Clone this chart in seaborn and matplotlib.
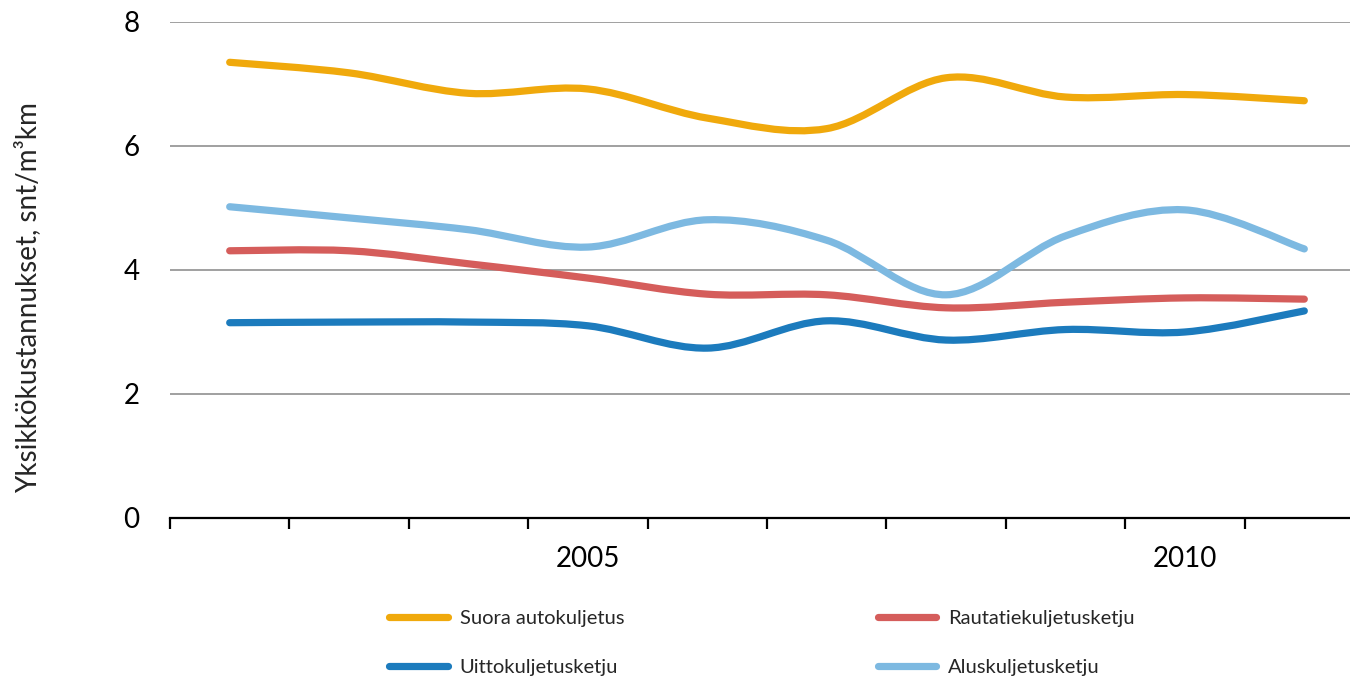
import matplotlib
matplotlib.use("Agg")
import matplotlib.pyplot as plt
import seaborn as sns
import numpy as np
from matplotlib.path import Path
from matplotlib.patches import PathPatch
from matplotlib.lines import Line2D

# data (snt/m3km)
years = [2002, 2003, 2004, 2005, 2006, 2007, 2008, 2009, 2010, 2011]
suora = [7.35, 7.18, 6.85, 6.92, 6.45, 6.28, 7.10, 6.79, 6.83, 6.73]
rautatie = [4.31, 4.31, 4.10, 3.87, 3.61, 3.60, 3.39, 3.48, 3.55, 3.53]
uitto = [3.15, 3.16, 3.16, 3.10, 2.74, 3.18, 2.87, 3.04, 3.00, 3.34]
alus = [5.02, 4.84, 4.65, 4.37, 4.81, 4.48, 3.60, 4.55, 4.97, 4.34]

series_names = ["Suora autokuljetus", "Rautatiekuljetusketju",
                "Uittokuljetusketju", "Aluskuljetusketju"]
colors = ["#F0A90C", "#D55D5B", "#1C7BBD", "#7DB9E1"]
label_years = [2005, 2010]

sns.set_theme(style="white")
plt.rcParams["font.family"] = ["Lato", "DejaVu Sans"]


def smooth_path(xs, ys):
    """Excel style smoothed line: cubic bezier through all points"""
    pts = np.column_stack([xs, ys]).astype(float)
    n = len(pts)
    verts = [pts[0]]
    codes = [Path.MOVETO]
    for i in range(n - 1):
        p0 = pts[i - 1] if i > 0 else pts[i]
        p1 = pts[i]
        p2 = pts[i + 1]
        p3 = pts[i + 2] if i + 2 < n else pts[i + 1]
        c1 = p1 + (p2 - p0) / 6.0
        c2 = p2 - (p3 - p1) / 6.0
        verts += [c1, c2, p2]
        codes += [Path.CURVE4] * 3
    return Path(verts, codes)


fig = plt.figure(figsize=(13.5, 6.81), dpi=100)
ax = fig.add_axes([170 / 1350, 1 - 518 / 681, 1194 / 1350, 496 / 681])

x = np.arange(len(years))
all_series = [suora, rautatie, uitto, alus]
for vals, col in zip(all_series, colors):
    ax.add_patch(PathPatch(smooth_path(x, vals), facecolor="none", edgecolor=col,
                           lw=5.2, capstyle="round", joinstyle="round", zorder=3))

ax.set_xlim(-0.5, len(years) - 0.5)
ax.set_ylim(0, 8)
ax.set_yticks([0, 2, 4, 6, 8])
ax.yaxis.grid(True, color="#999999", lw=1.3)
ax.set_axisbelow(True)
ax.tick_params(axis="y", length=0, pad=22, labelsize=20, colors="black")

# category boundary ticks, labels only on selected years
ax.set_xticks(np.arange(-0.5, len(years), 1.0))
ax.set_xticklabels([])
ax.tick_params(axis="x", which="major", bottom=True, length=8, width=1.6,
               color="black", direction="out")
ax.set_xticks([years.index(y) for y in label_years], minor=True)
ax.set_xticklabels([str(y) for y in label_years], minor=True)
ax.tick_params(axis="x", which="minor", bottom=True, length=0, pad=20,
               labelsize=20, labelcolor="black")

sns.despine(ax=ax, left=True, top=True, right=True)
ax.spines["bottom"].set_color("black")
ax.spines["bottom"].set_linewidth(1.6)

fig.text(28 / 1350, 1 - 298 / 681, "Yksikkökustannukset, snt/m³km", rotation=90,
         ha="center", va="center", fontsize=20)

handles = [Line2D([], [], color=c, lw=5.2, solid_capstyle="round") for c in colors]
order = [0, 2, 1, 3]
leg = fig.legend([handles[i] for i in order], [series_names[i] for i in order],
                 ncol=2, loc="center", bbox_to_anchor=(762 / 1350, 1 - 643 / 681),
                 frameon=False, fontsize=14.5, handlelength=2.9, handletextpad=0.6,
                 columnspacing=12.6, labelspacing=1.55)

fig.savefig("out.png", dpi=100)
